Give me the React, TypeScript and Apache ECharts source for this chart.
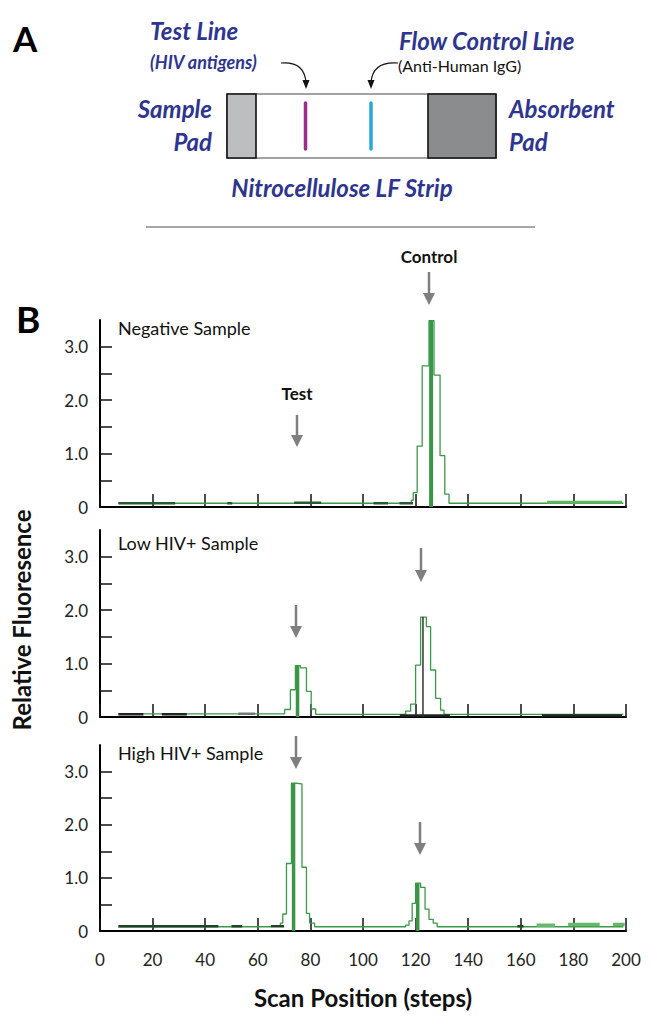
import React, { useEffect, useRef } from "react";
import * as echarts from "echarts";

// ---------------- DATA ----------------
const xTicks = [0, 20, 40, 60, 80, 100, 120, 140, 160, 180, 200];
const yTickValues = [0.5, 1, 1.5, 2, 2.5, 3];
const yLabelValues = [0, 1, 2, 3];
const panelTitles = ["Negative Sample", "Low HIV+ Sample", "High HIV+ Sample"];

// step profiles: [scan position (left edge of bin), relative fluorescence]
const negMain: number[][] = [
  [7, 0.07], [118.4, 0.13], [119.1, 0.27], [120.6, 1.14], [122.5, 2.64], [125.1, 3.49],
  [127.0, 2.47], [129.3, 0.96], [131.1, 0.24], [132.7, 0.07], [199, 0.07],
];
const lowMain: number[][] = [
  [7, 0.06], [68.6, 0.06], [70.2, 0.14], [72.4, 0.51], [74.3, 0.96], [76.2, 0.92],
  [78.5, 0.48], [80.3, 0.15], [82, 0.05], [116.2, 0.11], [118.1, 0.24], [120, 0.97],
  [121.9, 1.87], [124.1, 1.69], [125.7, 0.88], [127.6, 0.35], [129.5, 0.13], [130.8, 0.05],
  [199, 0.05],
];
const highMain: number[][] = [
  [7, 0.08], [65.1, 0.1], [68.6, 0.15], [69.5, 0.32], [70.9, 1.27], [72.8, 2.78],
  [74.5, 2.77], [76.8, 1.2], [78.5, 0.33], [79.7, 0.15], [81.6, 0.08], [116.2, 0.11],
  [117.5, 0.19], [118.7, 0.52], [120, 0.9], [121.9, 0.82], [123.6, 0.41], [125.1, 0.22],
  [126.7, 0.15], [128.2, 0.08], [199, 0.08],
];

// overlapping replicate traces near baseline: [start, end, level]
const negDark: number[][] = [[7, 28.6, 0.07], [48.4, 50.3, 0.07], [73.8, 84.1, 0.08], [104, 109.5, 0.07], [113.9, 119, 0.07]];
const negLight: number[][] = [[170, 198.5, 0.09]];
const lowDark: number[][] = [[7, 16.5, 0.05], [23.5, 33, 0.05], [114, 133, 0.03], [168, 198.5, 0.03]];
const lowGrey: number[][] = [[52.6, 59, 0.06]];
const highDark: number[][] = [[7, 45, 0.09], [50, 54, 0.09], [65, 70, 0.09], [158.7, 161, 0.09]];
const highLight: number[][] = [[166, 173, 0.11], [178, 190, 0.12], [195, 199.5, 0.12]];

// peak maxima bars: [position, height]
const negBars: number[][] = [[125.9, 3.49]];
const lowBars: number[][] = [[75.1, 0.96]];
const lowThin: number[][] = [[122.8, 1.87]];
const highBars: number[][] = [[73.6, 2.78], [120.8, 0.9]];

// ---------------- LAYOUT ----------------
const GRID_LEFT = 100;
const GRID_WIDTH = 526;
const gridTops = [320, 530, 745];
const gridHeights = [187, 187, 186];
const FONT = "Lato";
const NAVY = "#2e3590";
const GREEN = "#3a9a48";
const ARROW = "#7f7f7f";

function segData(segs: number[][]) {
  const out: any[] = [];
  segs.forEach((s, i) => {
    if (i > 0) out.push([s[0], null]);
    out.push([s[0], s[2]], [s[1], s[2]]);
  });
  return out;
}
function barData(bars: number[][]) {
  const out: any[] = [];
  bars.forEach((b, i) => {
    if (i > 0) out.push([b[0], null]);
    out.push([b[0], 0], [b[0], b[1]]);
  });
  return out;
}

function txt(text: string, x: number, y: number, o: any = {}) {
  const align = o.align || "left";
  return {
    type: "text",
    x,
    y,
    rotation: o.rotation || 0,
    z: 100,
    style: {
      text,
      fill: o.fill || "#111",
      fontSize: o.size || 16,
      fontWeight: o.weight || "normal",
      fontStyle: o.style || "normal",
      fontFamily: o.family || FONT,
      align,
      textAlign: align,
      verticalAlign: "middle",
      textVerticalAlign: "middle",
    },
  };
}

function downArrow(x: number, y1: number, y2: number) {
  return [
    { type: "line", z: 100, shape: { x1: x, y1, x2: x, y2: y2 - 8 }, style: { stroke: ARROW, lineWidth: 2.5 } },
    { type: "polygon", z: 100, shape: { points: [[x - 6, y2 - 12], [x + 6, y2 - 12], [x, y2]] }, style: { fill: ARROW } },
  ];
}

export default function App() {
  const ref = useRef<HTMLDivElement>(null);
  useEffect(() => {
    if (!ref.current) return;
    const chart = echarts.init(ref.current, undefined, { renderer: "svg" });

    const mains = [negMain, lowMain, highMain];
    const series: any[] = [];
    mains.forEach((m, i) => {
      series.push({
        type: "line", xAxisIndex: i, yAxisIndex: i, step: "end", showSymbol: false, data: m,
        lineStyle: { color: GREEN, width: 1.3 }, z: 2, silent: true,
      });
    });
    const addSeg = (i: number, segs: number[][], color: string, width: number, z = 3) =>
      series.push({
        type: "line", xAxisIndex: i, yAxisIndex: i, showSymbol: false, connectNulls: false, data: segData(segs),
        lineStyle: { color, width }, z, silent: true,
      });
    const addBars = (i: number, bars: number[][], color: string, width: number) =>
      series.push({
        type: "line", xAxisIndex: i, yAxisIndex: i, showSymbol: false, connectNulls: false, data: barData(bars),
        lineStyle: { color, width, cap: "butt" }, z: 4, silent: true,
      });
    addSeg(0, negDark, "#2a5a33", 2.5);
    addSeg(0, negLight, "#5fb562", 3);
    addSeg(1, lowDark, "#1e261f", 2.5);
    addSeg(1, lowGrey, "#6f7a70", 2.5);
    addSeg(2, highDark, "#23402a", 2.5);
    addSeg(2, highLight, "#66b96a", 3.5);
    addBars(0, negBars, "#3a9646", 4);
    addBars(1, lowBars, "#3a9646", 3.5);
    addBars(1, lowThin, "#333333", 1.5);
    addBars(2, highBars, "#3a9646", 3.5);

    const BI = { weight: "bold", style: "italic", fill: NAVY };
    const graphics: any[] = [
      // Panel A
      txt("A", 13, 38, { size: 35, weight: "bold", fill: "#000" }),
      txt("Test Line", 150, 30, { size: 24, ...BI }),
      txt("(HIV antigens)", 150, 62, { size: 18, ...BI }),
      txt("Flow Control Line", 399, 40, { size: 24, ...BI }),
      txt("(Anti-Human IgG)", 398, 65, { size: 16, fill: "#111" }),
      {
        type: "bezierCurve", z: 100,
        shape: { x1: 281, y1: 63, cpx1: 304, cpy1: 61, x2: 306, y2: 82 },
        style: { stroke: "#111", lineWidth: 1.2, fill: "none" },
      },
      { type: "polygon", z: 100, shape: { points: [[302.5, 80], [309.5, 80], [306, 89]] }, style: { fill: "#111" } },
      {
        type: "bezierCurve", z: 100,
        shape: { x1: 398, y1: 63, cpx1: 373, cpy1: 61, x2: 371, y2: 82 },
        style: { stroke: "#111", lineWidth: 1.2, fill: "none" },
      },
      { type: "polygon", z: 100, shape: { points: [[367.5, 80], [374.5, 80], [371, 89]] }, style: { fill: "#111" } },
      { type: "rect", z: 100, shape: { x: 227, y: 94, width: 269, height: 64 }, style: { fill: "#fff", stroke: "#444", lineWidth: 1 } },
      { type: "rect", z: 101, shape: { x: 227, y: 94, width: 29, height: 64 }, style: { fill: "#bcbec0", stroke: "#111", lineWidth: 1.6 } },
      { type: "rect", z: 101, shape: { x: 428, y: 94, width: 68, height: 64 }, style: { fill: "#8a8c8e", stroke: "#111", lineWidth: 1.6 } },
      { type: "line", z: 101, shape: { x1: 305.5, y1: 103, x2: 305.5, y2: 149 }, style: { stroke: "#9c2b8d", lineWidth: 3.5, lineCap: "round" } },
      { type: "line", z: 101, shape: { x1: 371, y1: 103, x2: 371, y2: 149 }, style: { stroke: "#29a8e0", lineWidth: 3.5, lineCap: "round" } },
      txt("Sample", 212, 108, { size: 24, ...BI, align: "right" }),
      txt("Pad", 212, 141, { size: 24, ...BI, align: "right" }),
      txt("Absorbent", 509, 108, { size: 24, ...BI }),
      txt("Pad", 509, 141, { size: 24, ...BI }),
      txt("Nitrocellulose LF Strip", 342, 187, { size: 24, ...BI, align: "center" }),
      { type: "line", z: 100, shape: { x1: 146, y1: 227, x2: 535, y2: 227 }, style: { stroke: "#8a8a8a", lineWidth: 1.5 } },
      // Panel B
      txt("B", 16, 318, { size: 37, weight: "bold", fill: "#000" }),
      txt("Control", 429, 256, { size: 17, weight: "bold", fill: "#111", align: "center" }),
      txt("Test", 297, 393, { size: 17, weight: "bold", fill: "#111", align: "center" }),
      ...downArrow(429, 272, 305),
      ...downArrow(297, 415, 447),
      ...downArrow(296, 605, 638),
      ...downArrow(421, 548, 582),
      ...downArrow(296, 736, 769),
      ...downArrow(420, 822, 855),
      txt(panelTitles[0], 118, 328, { size: 18 }),
      txt(panelTitles[1], 118, 543, { size: 18 }),
      txt(panelTitles[2], 118, 753, { size: 18 }),
      txt("Relative Fluoresence", 21, 620, { size: 24, weight: "bold", fill: "#111", align: "center", rotation: Math.PI / 2 }),
      txt("Scan Position (steps)", 363, 997, { size: 24, weight: "bold", fill: "#111", align: "center" }),
    ];

    chart.setOption({
      animation: false,
      backgroundColor: "#fff",
      textStyle: { fontFamily: FONT },
      grid: gridTops.map((t, i) => ({ left: GRID_LEFT, top: t, width: GRID_WIDTH, height: gridHeights[i] })),
      xAxis: gridTops.map((_, i) => ({
        type: "value", gridIndex: i, min: xTicks[0], max: xTicks[xTicks.length - 1], interval: 20,
        axisLine: { lineStyle: { color: "#000", width: 2 } },
        axisTick: { inside: true, length: 13, lineStyle: { color: "#111", width: 1.5 } },
        axisLabel: { show: i === 2, fontSize: 17, color: "#222", margin: 20, fontFamily: FONT },
        splitLine: { show: false },
      })),
      yAxis: gridTops.map((_, i) => ({
        type: "value", gridIndex: i, min: 0, max: 3.5,
        axisLine: { show: true, lineStyle: { color: "#000", width: 2 } },
        axisTick: { show: true, inside: true, length: 12, customValues: yTickValues, lineStyle: { color: "#111", width: 1.5 } },
        axisLabel: {
          show: true, customValues: yLabelValues, fontSize: 17, color: "#222", margin: 12, fontFamily: FONT,
          formatter: (v: number) => (v === 0 ? "0" : v.toFixed(1)),
        },
        splitLine: { show: false },
      })),
      series,
      graphic: { elements: graphics },
    });
    return () => chart.dispose();
  }, []);
  return <div ref={ref} style={{ position: "absolute", left: 0, top: 0, width: 651, height: 1022, background: "#fff" }} />;
}
